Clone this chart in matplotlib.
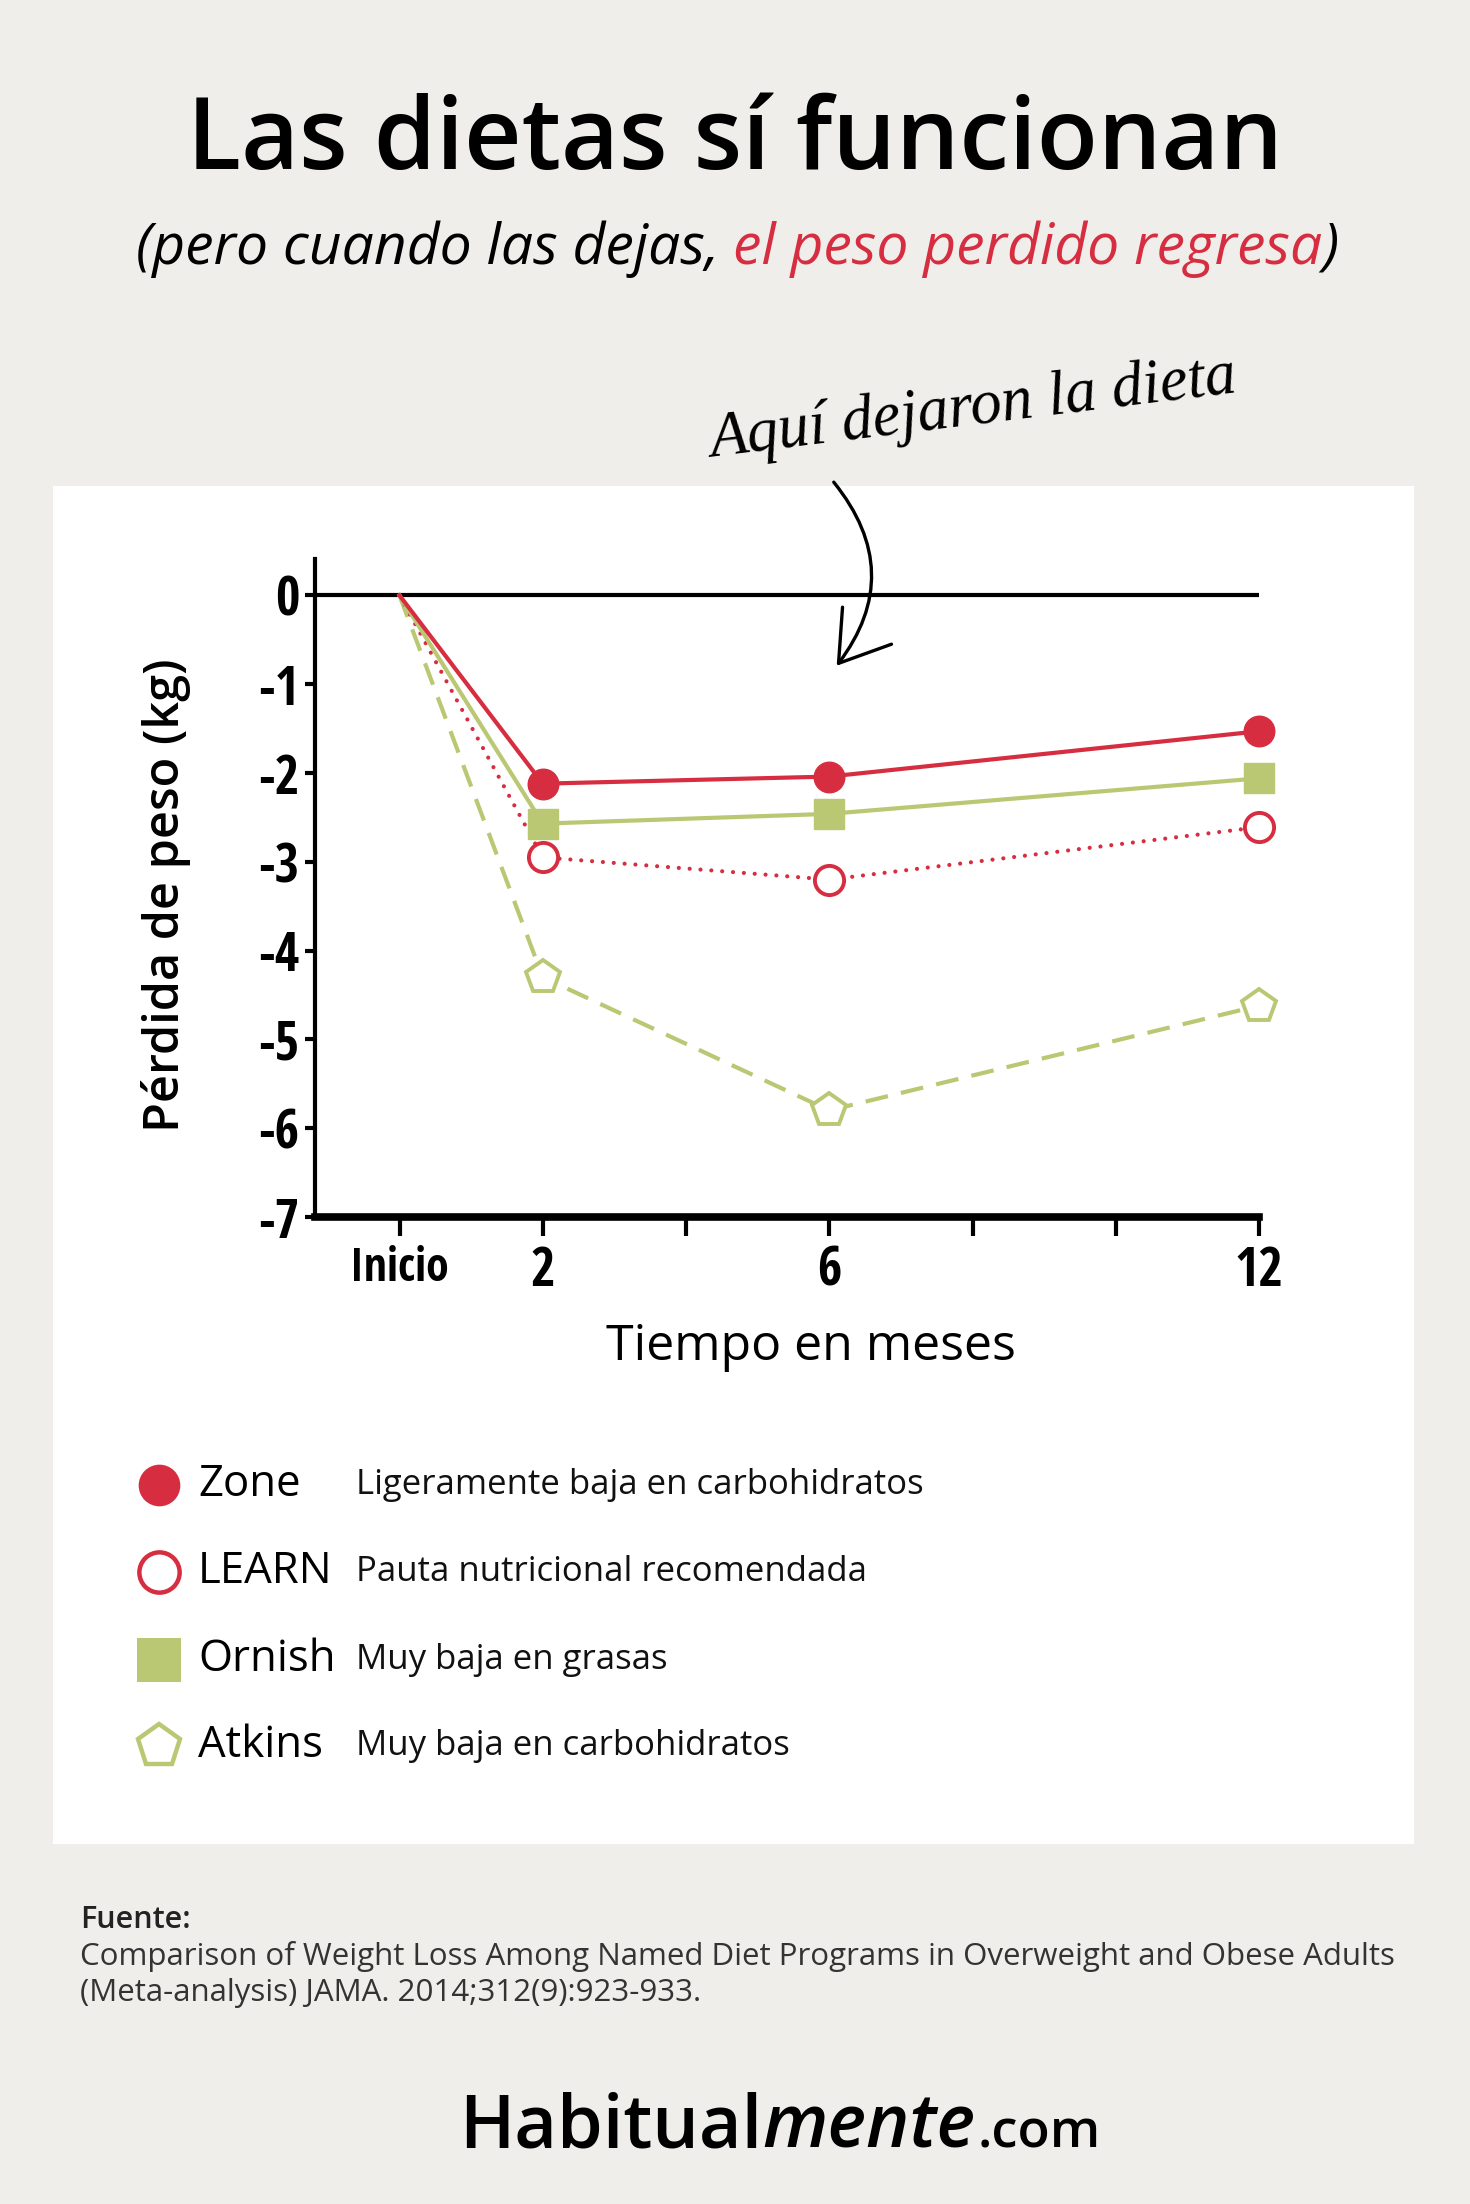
import matplotlib
matplotlib.use('Agg')
import matplotlib.pyplot as plt
from matplotlib.patches import Rectangle, FancyArrowPatch
from matplotlib.lines import Line2D

# ---------------- data ----------------
months = [0, 2, 6, 12]
zone = [0, -2.12, -2.04, -1.53]
learn = [0, -2.95, -3.20, -2.61]
ornish = [0, -2.57, -2.46, -2.06]
atkins = [0, -4.30, -5.80, -4.62]

diet_names = ['Zone', 'LEARN', 'Ornish', 'Atkins']
diet_desc = ['Ligeramente baja en carbohidratos',
             'Pauta nutricional recomendada',
             'Muy baja en grasas',
             'Muy baja en carbohidratos']

xtick_pos = [0, 2, 4, 6, 8, 10, 12]
xtick_labels = ['Inicio', '2', '', '6', '', '', '12']
ytick_pos = [0, -1, -2, -3, -4, -5, -6, -7]
ytick_labels = ['0', '-1', '-2', '-3', '-4', '-5', '-6', '-7']

RED = '#D62E40'
GREEN = '#BAC873'
BG = '#EFEEEB'

SANS = ['Open Sans', 'DejaVu Sans']
COND = ['Open Sans Condensed', 'Liberation Sans Narrow', 'Open Sans', 'DejaVu Sans']

W_PX, H_PX = 1470, 2204
fig = plt.figure(figsize=(W_PX / 100, H_PX / 100), dpi=100)
fig.patch.set_facecolor(BG)

def fx(px):
    return px / W_PX

def fy(py):
    return 1 - py / H_PX

# white panel
fig.add_artist(Rectangle((fx(53), fy(1844)), fx(1414) - fx(53), fy(486) - fy(1844),
                         transform=fig.transFigure, facecolor='white',
                         edgecolor='none', zorder=0))

# ---------------- axes ----------------
ax_l, ax_r, ax_t, ax_b = 315, 1259, 559, 1217
ax = fig.add_axes([fx(ax_l), fy(ax_b), fx(ax_r) - fx(ax_l), fy(ax_t) - fy(ax_b)])
ax.set_facecolor('none')
ax.set_xlim(-1.18, 12)
ax.set_ylim(-7, 0.41)
for s in ['top', 'right']:
    ax.spines[s].set_visible(False)
ax.spines['left'].set_linewidth(3)
ax.spines['bottom'].set_linewidth(5.5)
ax.axhline(0, color='black', lw=3, zorder=1)

ax.set_yticks(ytick_pos)
ax.set_yticklabels(ytick_labels)
ax.set_xticks(xtick_pos)
ax.set_xticklabels(xtick_labels)
ax.tick_params(axis='y', length=7, width=3, direction='out', pad=4)
ax.tick_params(axis='x', length=14, width=3, direction='out', pad=6)
for lab in ax.get_yticklabels():
    lab.set_fontfamily(COND)
    lab.set_fontweight('bold')
    lab.set_fontsize(38)
for lab in ax.get_xticklabels():
    lab.set_fontfamily(COND)
    lab.set_fontweight('bold')
    lab.set_fontsize(38)
ax.get_xticklabels()[0].set_fontsize(33)

# series
ax.plot(months, atkins, color=GREEN, lw=3.0, ls=(0, (5.5, 3.2)),
        clip_on=False, zorder=3)
ax.plot(months[1:], atkins[1:], ls='none', marker='p', ms=25, mfc='white',
        mec=GREEN, mew=2.8, clip_on=False, zorder=4)
ax.plot(months, learn, color=RED, lw=3.0, ls=(0, (0.01, 2.6)),
        dash_capstyle='round', clip_on=False, zorder=3)
ax.plot(months[1:], learn[1:], ls='none', marker='o', ms=21, mfc='white',
        mec=RED, mew=2.8, clip_on=False, zorder=4)
ax.plot(months, ornish, color=GREEN, lw=3.0, clip_on=False, zorder=3)
ax.plot(months[1:], ornish[1:], ls='none', marker='s', ms=21, mfc=GREEN,
        mec=GREEN, clip_on=False, zorder=4)
ax.plot(months, zone, color=RED, lw=3.0, clip_on=False, zorder=3)
ax.plot(months[1:], zone[1:], ls='none', marker='o', ms=22, mfc=RED,
        mec=RED, clip_on=False, zorder=4)

# axis titles
fig.text(fx(166), fy(895), 'Pérdida de peso (kg)', rotation=90, ha='center',
         va='center', fontsize=35, fontweight='semibold', family=SANS)
fig.text(fx(811), fy(1347), 'Tiempo en meses', ha='center', va='center',
         fontsize=36, family=SANS)

# ---------------- text runs helper ----------------
def runs_text(runs, x_center_px, y_px):
    texts = []
    for s, kw, gap in runs:
        t = fig.text(0, fy(y_px), s, ha='left', va='baseline', **kw)
        texts.append((t, gap))
    fig.canvas.draw()
    r = fig.canvas.get_renderer()
    widths = [t.get_window_extent(r).width + g for t, g in texts]
    x = x_center_px - sum(widths) / 2
    for (t, g), w in zip(texts, widths):
        t.set_x(fx(x))
        x += w

# title
fig.text(fx(735), fy(169), 'Las dietas sí funcionan', ha='center', va='baseline',
         fontsize=72, family=SANS, fontweight='semibold', color='black')

# subtitle
sub_kw = dict(fontsize=41, family=SANS, style='italic')
runs_text([('(pero cuando las dejas,', dict(color='black', **sub_kw), 14),
           ('el peso perdido regresa', dict(color=RED, **sub_kw), 0),
           (')', dict(color='black', **sub_kw), 0)], 737, 264)

# annotation
fig.text(fx(973), fy(410), 'Aquí dejaron la dieta', ha='center', va='center',
         rotation=7, fontsize=45, style='italic',
         family=['Liberation Serif', 'DejaVu Serif'], color='black')
arrow = FancyArrowPatch((fx(832), fy(480)), (fx(835), fy(668)),
                        transform=fig.transFigure,
                        connectionstyle='arc3,rad=-0.4',
                        arrowstyle='->,head_length=1.0,head_width=0.65',
                        mutation_scale=34, lw=2.4, color='black', zorder=5)
fig.add_artist(arrow)

# ---------------- legend ----------------
leg_rows = [1485, 1572, 1660, 1746]
leg_styles = [dict(marker='o', ms=30, mfc=RED, mec=RED, mew=0),
              dict(marker='o', ms=29, mfc='white', mec=RED, mew=3.2),
              dict(marker='s', ms=31, mfc=GREEN, mec=GREEN, mew=0),
              dict(marker='p', ms=32, mfc='white', mec=GREEN, mew=3.2)]
for yp, name, desc, st in zip(leg_rows, diet_names, diet_desc, leg_styles):
    fig.add_artist(Line2D([fx(159)], [fy(yp)], transform=fig.transFigure,
                          ls='none', **st))
    fig.text(fx(198), fy(yp), name, ha='left', va='center', fontsize=31.5,
             family=SANS, color='black')
    fig.text(fx(356), fy(yp), desc, ha='left', va='center', fontsize=25,
             family=SANS, color='#111111')

# ---------------- source ----------------
fig.text(fx(80), fy(1920), 'Fuente:', ha='left', va='center', fontsize=22,
         family=SANS, fontweight='semibold', color='#222222')
fig.text(fx(80), fy(1957),
         'Comparison of Weight Loss Among Named Diet Programs in Overweight and Obese Adults',
         ha='left', va='center', fontsize=22.5, family=SANS, color='#333333')
fig.text(fx(80), fy(1993), '(Meta-analysis) JAMA. 2014;312(9):923-933.',
         ha='left', va='center', fontsize=22.5, family=SANS, color='#333333')

# ---------------- footer ----------------
foot = dict(family=SANS, fontweight='semibold', color='black')
runs_text([('Habitual', dict(fontsize=53, **foot), 0),
           ('mente', dict(fontsize=53, style='italic', **foot), 2),
           ('.com', dict(fontsize=38, **foot), 0)], 780, 2148)

fig.savefig('out.png', dpi=100, facecolor=BG)
